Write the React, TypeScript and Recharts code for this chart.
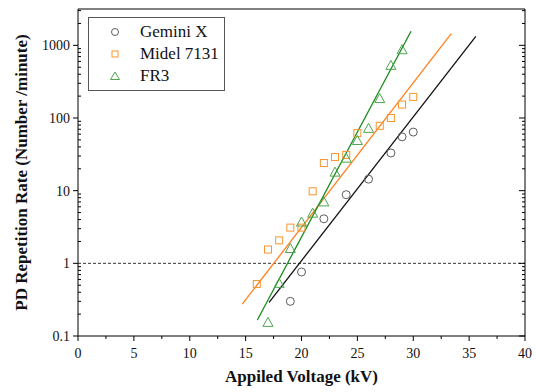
import {
  ComposedChart,
  Line,
  Scatter,
  XAxis,
  YAxis,
  ReferenceLine,
  Legend,
} from "recharts";

// measured points (kV, PD per minute)
const geminiV = [19, 20, 22, 24, 26, 28, 29, 30];
const geminiRate = [0.3, 0.76, 4.1, 8.8, 14.4, 33, 55, 64];

const midelV = [16, 17, 18, 19, 20, 21, 22, 23, 24, 25, 27, 28, 29, 30];
const midelRate = [0.52, 1.55, 2.07, 3.1, 3.1, 9.8, 24, 29, 31, 62, 78, 100, 153, 195];

const fr3V = [17, 18, 19, 20, 21, 22, 23, 24, 25, 26, 27, 28, 29];
const fr3Rate = [0.154, 0.53, 1.6, 3.7, 4.9, 7.0, 18, 28, 49, 72, 185, 530, 870];

// fitted trend lines (end points)
const geminiFitV = [17.1, 35.6];
const geminiFitRate = [0.29, 1330];
const midelFitV = [14.7, 33.4];
const midelFitRate = [0.275, 1450];
const fr3FitV = [16.05, 29.8];
const fr3FitRate = [0.166, 1560];

const xTicks = [0, 2.5, 5, 7.5, 10, 12.5, 15, 17.5, 20, 22.5, 25, 27.5, 30, 32.5, 35, 37.5, 40];
const xLabels = [0, 5, 10, 15, 20, 25, 30, 35, 40];
const yMajor = [0.1, 1, 10, 100, 1000];
const yLabels = ["0.1", "1", "10", "100", "1000"];
const yMinor = [
  0.2, 0.3, 0.4, 0.5, 0.6, 0.7, 0.8, 0.9,
  2, 3, 4, 5, 6, 7, 8, 9,
  20, 30, 40, 50, 60, 70, 80, 90,
  200, 300, 400, 500, 600, 700, 800, 900,
  2000, 3000,
];

const seriesNames = ["Gemini X", "Midel 7131", "FR3"];

const FONT = '"Liberation Serif", "Times New Roman", serif';
const GRAY = "#5c5c5c";
const ORANGE = "#f7952e";
const GREEN = "#4ea64e";

const toPoints = (xs: number[], ys: number[]) => xs.map((x, i) => ({ x, y: ys[i] }));

const Circle = (p: any) => (
  <circle cx={p.cx} cy={p.cy} r={4} fill="none" stroke={GRAY} strokeWidth={1} />
);
const Square = (p: any) => (
  <rect x={p.cx - 3.5} y={p.cy - 3.5} width={7} height={7} fill="none" stroke={ORANGE} strokeWidth={1} />
);
const Triangle = (p: any) => (
  <path
    d={`M${p.cx},${p.cy - 5}L${p.cx - 5},${p.cy + 4}L${p.cx + 5},${p.cy + 4}Z`}
    fill="none"
    stroke={GREEN}
    strokeWidth={1}
  />
);

const BottomTick = ({ x, y, payload }: any) => {
  const major = xLabels.includes(payload.value);
  return (
    <g>
      <line x1={x} x2={x} y1={y} y2={y + (major ? 5 : 3)} stroke="#000" />
      {major && (
        <text x={x} y={y + 22} textAnchor="middle" fontFamily={FONT} fontSize={14} fill="#111">
          {payload.value}
        </text>
      )}
    </g>
  );
};

const TopTick = ({ x, y }: any) => <line x1={x} x2={x} y1={y} y2={y + 5} stroke="#000" />;

const LeftTick = ({ x, y, payload }: any) => {
  const i = yMajor.indexOf(payload.value);
  if (i < 0) return <line x1={x} x2={x + 3} y1={y} y2={y} stroke="#000" />;
  return (
    <g>
      <line x1={x - 5} x2={x} y1={y} y2={y} stroke="#000" />
      <text x={x - 8} y={y + 5} textAnchor="end" fontFamily={FONT} fontSize={14} fill="#111">
        {yLabels[i]}
      </text>
    </g>
  );
};

const RightTick = ({ x, y, payload }: any) => {
  const major = yMajor.includes(payload.value);
  return <line x1={x - (major ? 6 : 3)} x2={x} y1={y} y2={y} stroke="#000" />;
};

const legendIcons = [
  <circle cx={6} cy={6} r={3.5} fill="none" stroke={GRAY} />,
  <rect x={3} y={3} width={6} height={6} fill="none" stroke={ORANGE} />,
  <path d="M6,2L1.5,9.5L10.5,9.5Z" fill="none" stroke={GREEN} />,
];

const LegendBox = () => (
  <div
    style={{
      width: 137,
      height: 74,
      border: "1px solid #555",
      boxSizing: "border-box",
      background: "#fff",
      fontFamily: FONT,
      fontSize: 17,
      color: "#111",
      paddingTop: 3,
    }}
  >
    {seriesNames.map((name, i) => (
      <div key={name} style={{ display: "flex", alignItems: "center", height: 22 }}>
        <svg width={12} height={12} style={{ marginLeft: 20, marginRight: 19 }}>
          {legendIcons[i]}
        </svg>
        <span>{name}</span>
      </div>
    ))}
  </div>
);

export default function App() {
  return (
    <div style={{ position: "absolute", left: 0, top: 0, background: "#fff" }}>
      <ComposedChart width={536} height={392} margin={{ top: 8, right: 10, bottom: 0, left: 0 }}>
        <XAxis
          xAxisId="b"
          dataKey="x"
          type="number"
          domain={[0, 40]}
          ticks={xTicks}
          interval={0}
          height={56}
          stroke="#000"
          tickLine={false}
          tickSize={0}
          tickMargin={0}
          tick={<BottomTick />}
          label={{
            value: "Appiled Voltage (kV)",
            position: "insideBottom",
            offset: 10,
            style: { fontFamily: FONT, fontSize: 17, fontWeight: "bold", fill: "#111" },
          }}
        />
        <XAxis
          xAxisId="t"
          orientation="top"
          dataKey="x"
          type="number"
          domain={[0, 40]}
          ticks={xTicks}
          interval={0}
          height={1}
          stroke="#000"
          tickLine={false}
          tickSize={0}
          tickMargin={0}
          tick={<TopTick />}
        />
        <YAxis
          yAxisId="l"
          dataKey="y"
          scale="log"
          type="number"
          domain={[0.1, 3162]}
          allowDataOverflow
          ticks={[...yMajor, ...yMinor]}
          interval={0}
          width={78}
          stroke="#000"
          tickLine={false}
          tickSize={0}
          tickMargin={0}
          tick={<LeftTick />}
          label={{
            value: "PD Repetition Rate (Number /minute)",
            angle: -90,
            position: "insideLeft",
            offset: 21,
            textAnchor: "middle",
            style: { fontFamily: FONT, fontSize: 17, fontWeight: "bold", fill: "#111" },
          }}
        />
        <YAxis
          yAxisId="r"
          orientation="right"
          dataKey="y"
          scale="log"
          type="number"
          domain={[0.1, 3162]}
          allowDataOverflow
          ticks={[...yMajor, ...yMinor]}
          interval={0}
          width={1}
          stroke="#000"
          tickLine={false}
          tickSize={0}
          tickMargin={0}
          tick={<RightTick />}
        />
        <ReferenceLine xAxisId="b" yAxisId="l" y={1} stroke="#000" strokeWidth={0.8} strokeDasharray="3 2" />
        <Line
          xAxisId="b"
          yAxisId="l"
          data={toPoints(geminiFitV, geminiFitRate)}
          dataKey="y"
          stroke="#111"
          strokeWidth={1.3}
          dot={false}
          isAnimationActive={false}
        />
        <Line
          xAxisId="b"
          yAxisId="l"
          data={toPoints(midelFitV, midelFitRate)}
          dataKey="y"
          stroke="#ff7f1e"
          strokeWidth={1.3}
          dot={false}
          isAnimationActive={false}
        />
        <Line
          xAxisId="b"
          yAxisId="l"
          data={toPoints(fr3FitV, fr3FitRate)}
          dataKey="y"
          stroke="#1b8a1b"
          strokeWidth={1.3}
          dot={false}
          isAnimationActive={false}
        />
        <Scatter
          xAxisId="b"
          yAxisId="l"
          data={toPoints(geminiV, geminiRate)}
          shape={Circle}
          isAnimationActive={false}
        />
        <Scatter
          xAxisId="b"
          yAxisId="l"
          data={toPoints(midelV, midelRate)}
          shape={Square}
          isAnimationActive={false}
        />
        <Scatter
          xAxisId="b"
          yAxisId="l"
          data={toPoints(fr3V, fr3Rate)}
          shape={Triangle}
          isAnimationActive={false}
        />
        <Legend
          layout="vertical"
          align="center"
          verticalAlign="middle"
          content={<LegendBox />}
          wrapperStyle={{ left: 88, top: 17, width: 137 }}
        />
      </ComposedChart>
    </div>
  );
}
